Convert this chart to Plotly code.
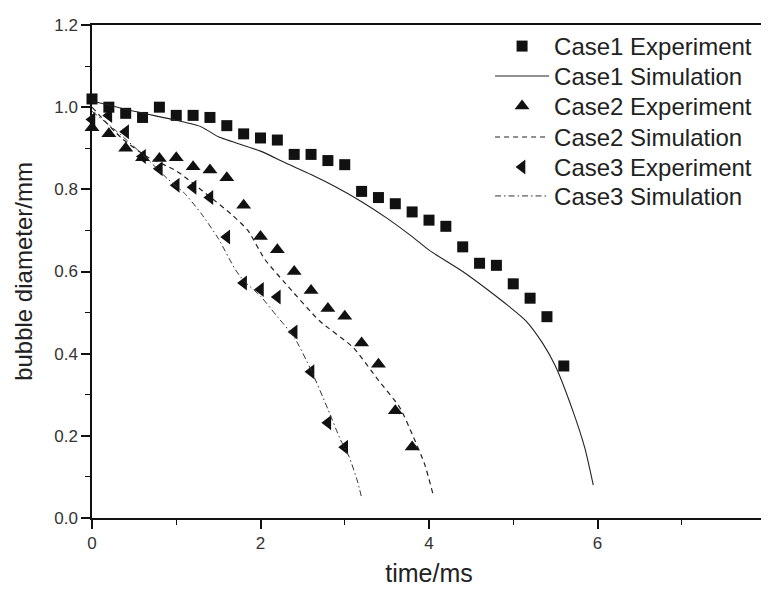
import plotly.graph_objects as go

# ---- data ----
case1_exp_t = [0.0, 0.2, 0.4, 0.6, 0.8, 1.0, 1.2, 1.4, 1.6, 1.8, 2.0, 2.2, 2.4, 2.6, 2.8, 3.0,
               3.2, 3.4, 3.6, 3.8, 4.0, 4.2, 4.4, 4.6, 4.8, 5.0, 5.2, 5.4, 5.6]
case1_exp_d = [1.02, 1.00, 0.985, 0.975, 1.00, 0.98, 0.98, 0.975, 0.955, 0.935, 0.925, 0.92, 0.885,
               0.885, 0.87, 0.86, 0.795, 0.78, 0.765, 0.745, 0.725, 0.71, 0.66, 0.62, 0.615,
               0.57, 0.535, 0.49, 0.37]

case1_sim_t = [0.0, 0.5, 1.0, 1.3, 1.5, 2.0, 2.3, 2.6, 2.9, 3.2, 3.5, 3.8, 4.0, 4.4, 4.7,
               4.95, 5.15, 5.35, 5.5, 5.7, 5.85, 5.95]
case1_sim_d = [1.015, 0.99, 0.968, 0.952, 0.928, 0.893, 0.864, 0.836, 0.805, 0.77, 0.73, 0.685,
               0.652, 0.60, 0.555, 0.515, 0.48, 0.425, 0.37, 0.265, 0.17, 0.08]

case2_exp_t = [0.0, 0.2, 0.4, 0.6, 0.8, 1.0, 1.2, 1.4, 1.6, 1.8, 2.0, 2.2, 2.4, 2.6, 2.8, 3.0,
               3.2, 3.4, 3.6, 3.8]
case2_exp_d = [0.95, 0.935, 0.90, 0.877, 0.875, 0.877, 0.855, 0.847, 0.828, 0.761, 0.685, 0.653,
               0.60, 0.554, 0.51, 0.491, 0.426, 0.374, 0.261, 0.173]

case2_sim_t = [0.0, 0.35, 0.65, 1.0, 1.35, 1.65, 1.85, 2.05, 2.3, 2.7, 3.1, 3.4, 3.65, 3.82,
               3.95, 4.05]
case2_sim_d = [1.0, 0.925, 0.88, 0.845, 0.79, 0.74, 0.70, 0.63, 0.57, 0.48, 0.415, 0.335, 0.27,
               0.195, 0.13, 0.056]

case3_exp_t = [0.0, 0.2, 0.4, 0.6, 0.8, 1.0, 1.2, 1.4, 1.6, 1.8, 2.0, 2.2, 2.4, 2.6, 2.8, 3.0]
case3_exp_d = [0.97, 0.98, 0.94, 0.88, 0.85, 0.81, 0.805, 0.78, 0.684, 0.572, 0.556, 0.538,
               0.453, 0.356, 0.232, 0.172]

case3_sim_t = [0.0, 0.3, 0.6, 0.9, 1.1, 1.3, 1.5, 1.7, 1.8, 2.0, 2.2, 2.4, 2.6, 2.8, 2.95,
               3.05, 3.15, 3.2]
case3_sim_d = [0.99, 0.94, 0.885, 0.825, 0.79, 0.74, 0.68, 0.605, 0.578, 0.54, 0.49, 0.44, 0.36,
               0.265, 0.19, 0.15, 0.09, 0.05]

x_ticks = [0, 2, 4, 6, 8]
y_ticks = [0.0, 0.2, 0.4, 0.6, 0.8, 1.0, 1.2]
y_tick_text = ["0.0", "0.2", "0.4", "0.6", "0.8", "1.0", "1.2"]

FONT = "Liberation Sans, Arial, sans-serif"
INK = "#111111"

# figure geometry (the page body adds an 8 px offset, so the figure is 8 px smaller)
W, H = 761, 585
ML, MR, MT, MB = 84.4, 3.4, 16.5, 75
PLOT_H = H - MT - MB
LEG_ROWS_PX = [38, 68, 98, 129, 159, 188]   # row centres, figure pixels from top
LEG_X = (490 - 8 - ML) / (W - ML - MR)

def leg_y(px):
    return (H - MB - px) / PLOT_H

fig = go.Figure()
fig.add_trace(go.Scatter(x=case1_exp_t, y=case1_exp_d, mode="markers", name="Case1 Experiment",
                         marker=dict(symbol="square", size=11, color=INK), cliponaxis=False,
                         legend="legend"))
fig.add_trace(go.Scatter(x=case1_sim_t, y=case1_sim_d, mode="lines", name="Case1 Simulation",
                         line=dict(color="#222222", width=1.1, shape="spline", smoothing=0.6),
                         legend="legend2"))
fig.add_trace(go.Scatter(x=case2_exp_t, y=case2_exp_d, mode="markers", name="Case2 Experiment",
                         marker=dict(symbol="triangle-up", size=13, color=INK), cliponaxis=False,
                         legend="legend3"))
fig.add_trace(go.Scatter(x=case2_sim_t, y=case2_sim_d, mode="lines", name="Case2 Simulation",
                         line=dict(color="#222222", width=1.2, dash="5px,4px", shape="spline",
                                   smoothing=0.6),
                         legend="legend4"))
fig.add_trace(go.Scatter(x=case3_exp_t, y=case3_exp_d, mode="markers", name="Case3 Experiment",
                         marker=dict(symbol="triangle-left", size=13, color=INK), cliponaxis=False,
                         legend="legend5"))
fig.add_trace(go.Scatter(x=case3_sim_t, y=case3_sim_d, mode="lines", name="Case3 Simulation",
                         line=dict(color="#333333", width=1.0, dash="6px,3px,1.5px,3px",
                                   shape="spline", smoothing=0.6),
                         legend="legend6"))

axis_common = dict(
    showline=True, linecolor="#111111", linewidth=1.5, mirror=True,
    ticks="outside", ticklen=9, tickwidth=1.5, tickcolor="#111111",
    showgrid=False, zeroline=False, ticklabeloverflow="allow",
    tickfont=dict(family=FONT, size=17, color="#333333"),
)

fig.update_xaxes(range=[0, 8], tickvals=x_ticks,
                 minor=dict(ticks="outside", ticklen=5, tickwidth=1.2, tickcolor="#111111", dtick=1,
                            showgrid=False),
                 title=dict(text="time/ms", font=dict(family=FONT, size=25, color="#222222"),
                            standoff=12),
                 **axis_common)
fig.update_yaxes(range=[0, 1.2], tickvals=y_ticks, ticktext=y_tick_text,
                 minor=dict(ticks="outside", ticklen=5, tickwidth=1.2, tickcolor="#111111", dtick=0.1,
                            showgrid=False),
                 title=dict(text="bubble diameter/mm", font=dict(family=FONT, size=24, color="#222222"),
                            standoff=15),
                 **axis_common)

legend_common = dict(x=LEG_X, xanchor="left", yanchor="middle",
                     font=dict(family=FONT, size=24, color="#222222"),
                     bgcolor="rgba(0,0,0,0)", borderwidth=0, itemwidth=54)

fig.update_layout(
    width=W, height=H,
    margin=dict(l=ML, r=MR, t=MT, b=MB, autoexpand=False),
    paper_bgcolor="white", plot_bgcolor="white",
    showlegend=True,
    legend=dict(y=leg_y(LEG_ROWS_PX[0]), **legend_common),
    legend2=dict(y=leg_y(LEG_ROWS_PX[1]), **legend_common),
    legend3=dict(y=leg_y(LEG_ROWS_PX[2]), **legend_common),
    legend4=dict(y=leg_y(LEG_ROWS_PX[3]), **legend_common),
    legend5=dict(y=leg_y(LEG_ROWS_PX[4]), **legend_common),
    legend6=dict(y=leg_y(LEG_ROWS_PX[5]), **legend_common),
)

fig.write_html("out.html")
